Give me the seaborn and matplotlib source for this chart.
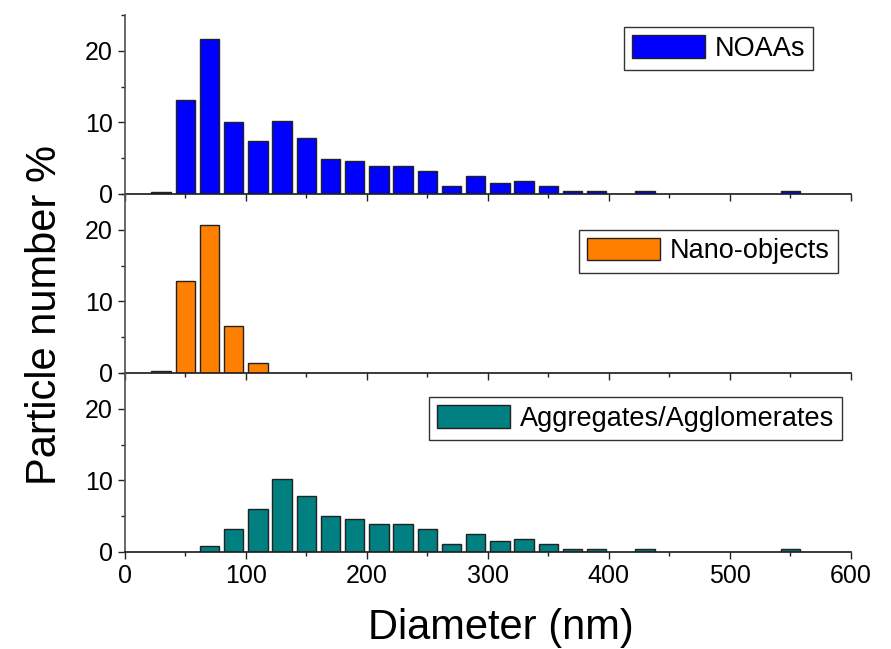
import matplotlib
matplotlib.use("Agg")
import matplotlib.pyplot as plt
import seaborn as sns
import pandas as pd
from matplotlib.patches import Patch
from matplotlib.ticker import MultipleLocator

# bin centres (nm) and particle number % for each population
noaa_d = [30, 50, 70, 90, 110, 130, 150, 170, 190, 210, 230, 250, 270, 290,
          310, 330, 350, 370, 390, 430, 550]
noaa_p = [0.3, 13.1, 21.6, 10.0, 7.4, 10.2, 7.8, 4.9, 4.6, 3.9, 3.9, 3.2, 1.1,
          2.5, 1.5, 1.8, 1.1, 0.4, 0.4, 0.4, 0.4]

nano_d = [30, 50, 70, 90, 110]
nano_p = [0.25, 12.9, 20.7, 6.6, 1.4]

agg_d = [70, 90, 110, 130, 150, 170, 190, 210, 230, 250, 270, 290, 310, 330,
         350, 370, 390, 430, 550]
agg_p = [0.8, 3.2, 6.0, 10.2, 7.8, 5.0, 4.6, 3.9, 3.9, 3.2, 1.1, 2.5, 1.5,
         1.8, 1.1, 0.4, 0.4, 0.4, 0.4]

# name, x, y, colour, legend anchor (right, top) in axes fraction
panels = [
    ("NOAAs", noaa_d, noaa_p, "#0000ff", (0.948, 0.933)),
    ("Nano-objects", nano_d, nano_p, "#ff8000", (0.982, 0.80)),
    ("Aggregates/Agglomerates", agg_d, agg_p, "#008080", (0.988, 0.866)),
]

sns.set_theme(style="ticks")
plt.rcParams["font.family"] = ["Liberation Sans", "DejaVu Sans"]

fig = plt.figure(figsize=(8.91, 6.49), dpi=100)
left, width = 0.140, 0.815
h = 0.2758
bottom0 = 0.1495

for i, (name, d, p, col, anchor) in enumerate(panels):
    ax = fig.add_axes([left, bottom0 + (2 - i) * h, width, h])
    df = pd.DataFrame({"d": d, "p": p})
    sns.barplot(data=df, x="d", y="p", native_scale=True, width=0.8,
                color=col, saturation=1, edgecolor="#222222", linewidth=1.0,
                ax=ax)
    ax.set_xlim(0, 600)
    ax.set_ylim(0, 25)
    ax.set_xlabel("")
    ax.set_ylabel("")
    ax.yaxis.set_major_locator(MultipleLocator(10))
    ax.yaxis.set_minor_locator(MultipleLocator(5))
    ax.xaxis.set_major_locator(MultipleLocator(100))
    ax.xaxis.set_minor_locator(MultipleLocator(50))
    ax.tick_params(axis="both", which="major", direction="out", length=5,
                   width=1, labelsize=18, colors="#222222", labelcolor="black")
    ax.tick_params(axis="both", which="minor", direction="out", length=3,
                   width=1, colors="#222222")
    if i < 2:
        ax.tick_params(axis="x", labelbottom=False)
    for s in ("top", "right"):
        ax.spines[s].set_visible(False)
    ax.spines["left"].set_color("#555555")
    ax.spines["bottom"].set_color("#222222")
    ax.patch.set_alpha(0)
    leg = ax.legend(handles=[Patch(facecolor=col, edgecolor="#222222",
                                   linewidth=1.0, label=name)],
                    loc="upper right", bbox_to_anchor=anchor,
                    fontsize=19.5, frameon=True, fancybox=False,
                    handlelength=2.7, handleheight=0.9, handletextpad=0.35,
                    borderpad=0.3, borderaxespad=0)
    leg.get_frame().set_edgecolor("black")
    leg.get_frame().set_linewidth(1.0)
    for t in leg.get_texts():
        t.set_color("black")

fig.text(0.05, 0.515, "Particle number %", rotation=90, ha="center",
         va="center", fontsize=30, color="black")
fig.text(0.562, 0.032, "Diameter (nm)", ha="center", va="center",
         fontsize=30, color="black")

fig.savefig("out.png", dpi=100)
